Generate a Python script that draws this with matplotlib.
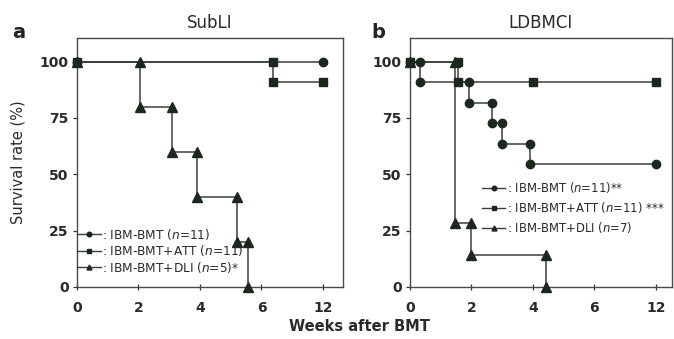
import numpy as np
import matplotlib
matplotlib.use("Agg")
import matplotlib.pyplot as plt

plt.rcParams['font.family'] = ['DejaVu Sans']
plt.rcParams['mathtext.fontset'] = 'dejavusans'

# ---------------- data (weeks after BMT, survival %) ----------------
# Panel a: SubLI
a_bmt_t = [0, 12]
a_bmt_s = [100, 100]
a_att_t = [0, 7.1, 12]
a_att_s = [100, 90.9, 90.9]
a_dli_t = [0, 2.05, 3.08, 3.89, 5.19, 5.57]
a_dli_s = [100, 80, 60, 40, 20, 0]

# Panel b: LDBMCI
b_bmt_t = [0, 0.33, 1.92, 2.67, 2.99, 3.9, 12]
b_bmt_s = [100, 90.9, 81.8, 72.7, 63.6, 54.5, 54.5]
b_att_t = [0, 1.56, 4.0, 12]
b_att_s = [100, 90.9, 90.9, 90.9]
b_dli_t = [0, 1.46, 2.0, 4.42]
b_dli_s = [100, 28.6, 14.3, 0]

a_labels = [r": IBM-BMT ($n$=11)", r": IBM-BMT+ATT ($n$=11)", r": IBM-BMT+DLI ($n$=5)*"]
b_labels = [r": IBM-BMT ($n$=11)**", r": IBM-BMT+ATT ($n$=11) ***", r": IBM-BMT+DLI ($n$=7)"]
xticks = [0, 2, 4, 6, 12]
yticks = [0, 25, 50, 75, 100]

LINE = '#3a3f3a'
MARK = '#1c271e'
TXT = '#2a2a2a'


def fwd(x):
    x = np.asarray(x, dtype=float)
    return np.where(x <= 6, x, 6 + (x - 6) / 3.0)


def inv(p):
    p = np.asarray(p, dtype=float)
    return np.where(p <= 6, p, 6 + (p - 6) * 3.0)


def step_vertices(t, s):
    xs, ys = [t[0]], [s[0]]
    for i in range(1, len(t)):
        xs.append(t[i]); ys.append(s[i - 1])
        if s[i] != s[i - 1]:
            xs.append(t[i]); ys.append(s[i])
    return xs, ys


def draw(ax, t, s, marker, ms, label):
    xs, ys = step_vertices(t, s)
    ax.plot(xs, ys, color=LINE, lw=1.1, zorder=2)
    ax.plot(xs, ys, ls='none', marker=marker, ms=ms, color=MARK, mec=MARK,
            zorder=3, clip_on=False)
    ax.plot([], [], color=LINE, lw=1.0, marker=marker, ms=ms * 0.55, mfc=MARK, mec=MARK, label=label)


fig = plt.figure(figsize=(6.74, 3.39), dpi=100)
axa = fig.add_axes([0.1142, 0.1534, 0.3947, 0.7345])
axb = fig.add_axes([0.6083, 0.1534, 0.3887, 0.7345])

draw(axa, a_bmt_t, a_bmt_s, 'o', 6.0, a_labels[0])
draw(axa, a_att_t, a_att_s, 's', 5.5, a_labels[1])
draw(axa, a_dli_t, a_dli_s, '^', 6.5, a_labels[2])

draw(axb, b_bmt_t, b_bmt_s, 'o', 6.0, b_labels[0])
draw(axb, b_att_t, b_att_s, 's', 5.5, b_labels[1])
draw(axb, b_dli_t, b_dli_s, '^', 6.5, b_labels[2])

for ax, right in ((axa, 8.65), (axb, 8.53)):
    ax.set_xscale('function', functions=(fwd, inv))
    ax.set_xlim(0, float(inv(right)))
    ax.set_ylim(0, 110.5)
    ax.set_xticks(xticks)
    ax.set_xticklabels([str(v) for v in xticks])
    ax.set_yticks(yticks)
    ax.minorticks_off()
    ax.tick_params(axis='x', direction='inout', length=4, width=0.9, pad=8,
                   labelsize=10, colors='#333', labelcolor=TXT)
    ax.tick_params(axis='y', direction='out', length=3, width=0.9, pad=3,
                   labelsize=10, colors='#333', labelcolor=TXT)
    for sp in ax.spines.values():
        sp.set_color('#4a4a4a')
        sp.set_linewidth(1.0)
    for lab in ax.get_xticklabels() + ax.get_yticklabels():
        lab.set_fontweight('bold')

axa.set_title('SubLI', fontsize=12, color=TXT, pad=7)
axb.set_title('LDBMCI', fontsize=12, color=TXT, pad=7)

fig.text(0.027, 0.903, 'a', fontsize=14, fontweight='bold', color='#222',
         ha='center', va='center')
fig.text(0.561, 0.905, 'b', fontsize=14, fontweight='bold', color='#222',
         ha='center', va='center')
fig.text(0.533, 0.038, 'Weeks after BMT', fontsize=10.5, fontweight='bold',
         color=TXT, ha='center', va='center')
fig.text(0.027, 0.522, 'Survival rate (%)', fontsize=10.5, color=TXT,
         rotation=90, ha='center', va='center')

la = axa.legend(loc='lower left', bbox_to_anchor=(0.0, 0.05), frameon=False,
                fontsize=8.7, handlelength=2.0, handletextpad=0.1,
                labelspacing=0.12, borderpad=0, borderaxespad=0)
lb = axb.legend(loc='upper left', bbox_to_anchor=(0.275, 0.43), frameon=False,
                fontsize=8.4, handlelength=2.0, handletextpad=0.1,
                labelspacing=0.45, borderpad=0, borderaxespad=0)
for lg in (la, lb):
    for txt in lg.get_texts():
        txt.set_color(TXT)

fig.savefig('out.png', dpi=100, facecolor='white')
